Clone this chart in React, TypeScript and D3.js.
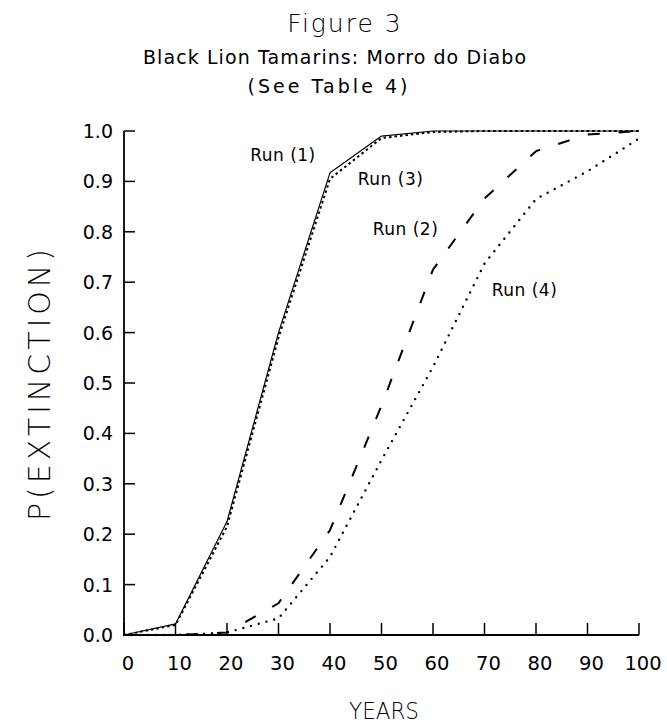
import React from "react";
import * as d3 from "d3";

const years = [0, 10, 20, 30, 40, 50, 60, 70, 80, 90, 100];
const run1 = [0, 0.022, 0.225, 0.6, 0.917, 0.99, 1.0, 1.0, 1.0, 1.0, 1.0];
const run3 = [0, 0.02, 0.215, 0.59, 0.905, 0.986, 0.998, 1.0, 1.0, 1.0, 1.0];
const run2 = [0, 0, 0.005, 0.063, 0.208, 0.455, 0.725, 0.866, 0.96, 0.993, 1.0];
const run4 = [0, 0, 0.005, 0.033, 0.155, 0.347, 0.532, 0.737, 0.865, 0.92, 0.985];
const xTicks = [0, 10, 20, 30, 40, 50, 60, 70, 80, 90, 100];
const yTicks = [0, 0.1, 0.2, 0.3, 0.4, 0.5, 0.6, 0.7, 0.8, 0.9, 1.0];
const runLabels = ["Run (1)", "Run (3)", "Run (2)", "Run (4)"];
const labelAnchors = [
  [24.5, 0.94],
  [45.4, 0.893],
  [48.3, 0.793],
  [71.4, 0.672],
];

const W = 667;
const H = 726;
const FONT = "'DejaVu Sans', 'Liberation Sans', sans-serif";

export default function App() {
  const x = d3.scaleLinear().domain([0, 100]).range([124, 639]);
  const y = d3.scaleLinear().domain([0, 1]).range([635, 131]);
  const line = d3
    .line<number>()
    .x((_, i) => x(years[i]))
    .y((d) => y(d));

  const series = [
    { v: run1, dash: undefined, w: 1.2, cap: "butt" },
    { v: run3, dash: "2.5 3", w: 2, cap: "butt" },
    { v: run2, dash: "12 19", w: 2, cap: "butt" },
    { v: run4, dash: "0 8", w: 2.4, cap: "round" },
  ];

  return (
    <svg
      width={W}
      height={H}
      viewBox={`0 0 ${W} ${H}`}
      style={{ position: "absolute", left: 0, top: 0, background: "#fff" }}
      fontFamily={FONT}
    >
      <rect x={0} y={0} width={W} height={H} fill="#fff" />
      {/* titles */}
      <text x={345} y={32} textAnchor="middle" fontSize={25} fontWeight={200} letterSpacing={2}>
        Figure 3
      </text>
      <text
        x={334.5}
        y={64}
        textAnchor="middle"
        fontSize={19}
        textLength={383}
        lengthAdjust="spacing"
      >
        Black Lion Tamarins: Morro do Diabo
      </text>
      <text
        x={327.5}
        y={93}
        textAnchor="middle"
        fontSize={19}
        textLength={160}
        lengthAdjust="spacing"
      >
        (See Table 4)
      </text>

      {/* axes */}
      <line x1={x(0)} x2={x(0)} y1={y(0)} y2={y(1)} stroke="#000" strokeWidth={1.8} />
      <line x1={x(0)} x2={x(100)} y1={y(0)} y2={y(0)} stroke="#000" strokeWidth={1.8} />
      {yTicks.map((t) => (
        <g key={"y" + t}>
          <line x1={x(0)} x2={x(0) + 11} y1={y(t)} y2={y(t)} stroke="#000" strokeWidth={1.5} />
          <text x={113} y={y(t) + 7} textAnchor="end" fontSize={19}>
            {d3.format(".1f")(t)}
          </text>
        </g>
      ))}
      {xTicks.map((t) => (
        <g key={"x" + t}>
          <line x1={x(t)} x2={x(t)} y1={y(0)} y2={y(0) - 12} stroke="#000" strokeWidth={1.5} />
          <text x={x(t) + 4} y={670} textAnchor="middle" fontSize={19.5}>
            {t}
          </text>
        </g>
      ))}

      <text
        transform={`translate(50,${385}) rotate(-90)`}
        textAnchor="middle"
        fontSize={30}
        fontWeight={200}
        textLength={272}
        lengthAdjust="spacing"
      >
        P(EXTINCTION)
      </text>
      <text
        x={384}
        y={719}
        textAnchor="middle"
        fontSize={23}
        fontWeight={200}
        textLength={70}
        lengthAdjust="spacingAndGlyphs"
      >
        YEARS
      </text>

      {/* series */}
      {series.map((s, i) => (
        <path
          key={i}
          d={line(s.v) || ""}
          fill="none"
          stroke="#000"
          strokeWidth={s.w}
          strokeDasharray={s.dash}
          strokeLinecap={s.cap as any}
          strokeLinejoin="round"
        />
      ))}

      {runLabels.map((lab, i) => (
        <text
          key={lab}
          x={x(labelAnchors[i][0])}
          y={y(labelAnchors[i][1])}
          fontSize={17}
          letterSpacing={0.5}
        >
          {lab}
        </text>
      ))}
    </svg>
  );
}
